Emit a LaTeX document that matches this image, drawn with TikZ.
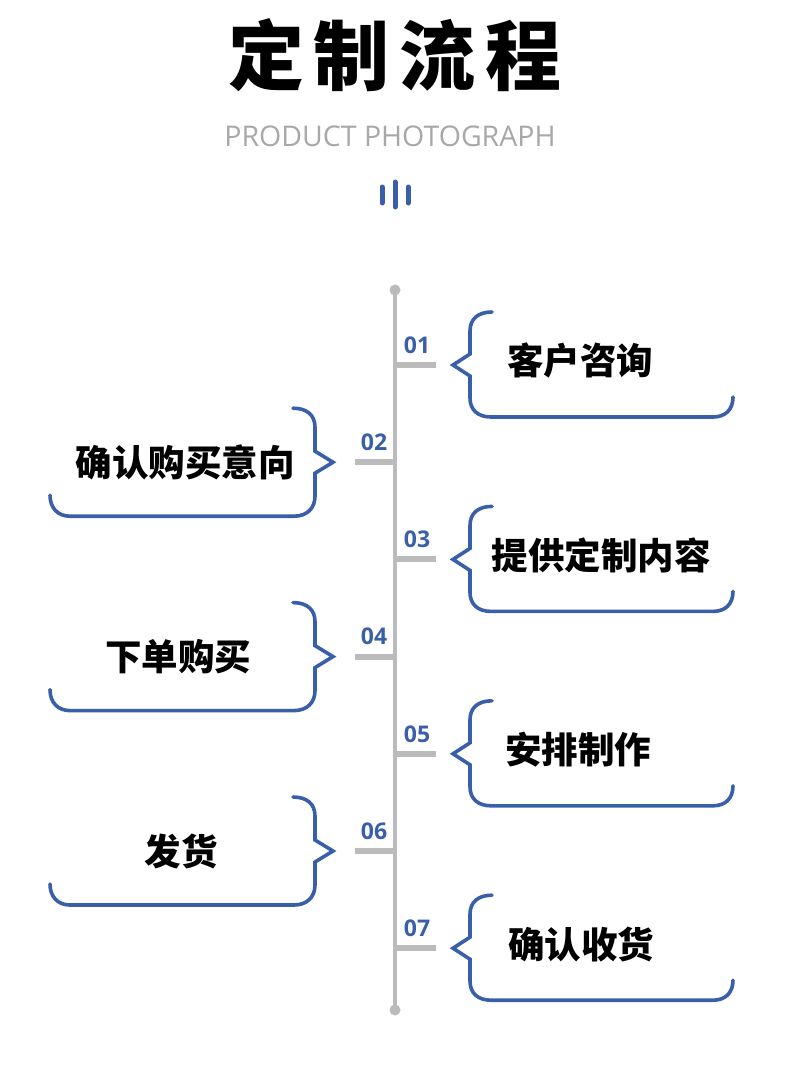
\documentclass[tikz,border=0pt]{standalone}
\usepackage{fontspec}
\setmainfont{Open Sans}
\newfontfamily\cjk{Noto Sans CJK SC}
\definecolor{bl}{HTML}{3A5FA9}
\definecolor{tl}{HTML}{BBBBBB}
\definecolor{sub}{HTML}{A8A8A8}
\tikzset{
  br/.style={draw=bl,line width=3.6pt,line cap=round,line join=miter},
  tick/.style={draw=tl,line width=6pt},
  num/.style={text=bl,font=\fontsize{23}{23}\selectfont\bfseries,inner sep=0pt},
  lab/.style={font=\cjk\bfseries\fontsize{36.5}{36.5}\selectfont,inner sep=0pt},
  bar/.style={draw=bl,line width=5pt,line cap=round}
}
\begin{document}
\begin{tikzpicture}[x=1pt,y=-1pt]
\useasboundingbox (0,0) rectangle (790,1071);
\fill[white] (0,0) rectangle (790,1071);
% title
\node[font=\cjk\bfseries\fontsize{76}{76}\selectfont,inner sep=0pt] (title) at (395,55) {定\hspace{10pt}制\hspace{10pt}流\hspace{10pt}程};
\node[text=sub,font=\fontsize{28.5}{28.5}\selectfont,inner sep=0pt] (subtitle) at (390,136) {PRODUCT PHOTOGRAPH};
\draw[bar] (382,187) -- (382,203);
\draw[bar] (395,182) -- (395,207);
\draw[bar] (408,187) -- (408,203);
% timeline
\coordinate (ttop) at (395,290);
\coordinate (tbot) at (395,1010);
\draw[tl,line width=3.5pt] (ttop) -- (tbot);
\fill[tl] (ttop) circle (5.5);
\fill[tl] (tbot) circle (5.5);
% right items
\foreach \i/\t/\tx in {1/客户咨询/580,3/提供定制内容/601,5/安排制作/578,7/确认收货/581}{
  \pgfmathsetmacro{\yy}{365+97.2*(\i-1)}
  \draw[tick] (397,\yy) -- (436,\yy);
  \node[num] (n\i) at (417,\yy-20) {0\i};
  \draw[br] (492,\yy-53) .. controls (478,\yy-53) and (470,\yy-46) .. (470,\yy-34) -- (470,\yy-11) -- (453,\yy) -- (470,\yy+11) -- (470,\yy+33) .. controls (470,\yy+45) and (478,\yy+52) .. (491,\yy+52) -- (713,\yy+52) .. controls (725,\yy+52) and (733,\yy+45) .. (733,\yy+32);
  \node[lab] (l\i) at (\tx,\yy-4) {\t};
}
% left items
\foreach \i/\t/\tx in {2/确认购买意向/185,4/下单购买/178,6/发货/181}{
  \pgfmathsetmacro{\yy}{365+97.2*(\i-1)}
  \draw[tick] (355,\yy) -- (393,\yy);
  \node[num] (n\i) at (374,\yy-20) {0\i};
  \draw[br] (293,\yy-54) .. controls (307,\yy-54) and (315,\yy-47) .. (315,\yy-35) -- (315,\yy-11) -- (333,\yy) -- (315,\yy+11) -- (315,\yy+34) .. controls (315,\yy+46) and (307,\yy+54) .. (294,\yy+54) -- (70,\yy+54) .. controls (58,\yy+54) and (50,\yy+46) .. (50,\yy+33);
  \node[lab] (l\i) at (\tx,\yy) {\t};
}
\end{tikzpicture}
\end{document}
